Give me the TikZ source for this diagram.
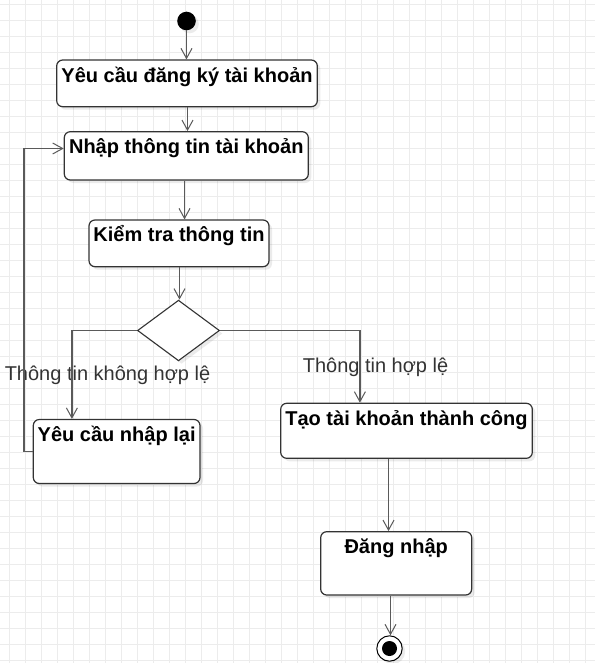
\documentclass[tikz,border=0pt]{standalone}
\usepackage{fontspec}
\setmainfont{Liberation Sans}
\usetikzlibrary{arrows.meta,shapes.geometric,shadows,calc}
\definecolor{gridc}{RGB}{236,236,236}
\definecolor{linec}{RGB}{90,90,90}
\definecolor{boxc}{RGB}{51,51,51}
\definecolor{labc}{RGB}{51,51,51}
\tikzset{
  actbox/.style={rectangle, rounded corners=6pt, draw=boxc, line width=1.2pt, fill=white,
    inner sep=0pt, drop shadow={shadow xshift=3pt, shadow yshift=-3pt, fill=black, opacity=0.08}},
  btext/.style={font=\bfseries\fontsize{20}{24}\selectfont, text=black, inner sep=0pt, anchor=base},
  elabel/.style={font=\fontsize{20}{24}\selectfont, text=labc, inner sep=0pt, anchor=base},
  arr/.style={draw=linec, line width=1.5pt, -{Straight Barb[length=10pt,width=11pt,line width=1pt]}},
  decision/.style={diamond, draw=boxc, line width=1.1pt, fill=white, inner sep=0pt,
    drop shadow={shadow xshift=3pt, shadow yshift=-3pt, fill=black, opacity=0.08}},
}
\begin{document}
\begin{tikzpicture}[x=1pt,y=-1pt]
\useasboundingbox (0,0) rectangle (595,663);
\fill[white] (0,0) rectangle (595,663);
% grid
\foreach \gx in {9,25,...,595} \draw[gridc, line width=0.9pt] (\gx,0) -- (\gx,663);
\foreach \gy in {4,20,...,663} \draw[gridc, line width=0.9pt] (0,\gy) -- (595,\gy);

% start
\node[circle, fill=black, minimum size=18.6pt, inner sep=0pt,
  drop shadow={shadow xshift=3pt, shadow yshift=-3pt, fill=black, opacity=0.08}] (start) at (186.5,21) {};

% boxes
\node[actbox, minimum width=260.6pt, minimum height=46.7pt] (b1) at (187,83.35) {};
\node[btext] (t1) at ($(b1.north)+(0,22.7)$) {Yêu cầu đăng ký tài khoản};

\node[actbox, minimum width=244pt, minimum height=48.3pt] (b2) at (186.3,155.85) {};
\node[btext] (t2) at ($(b2.north)+(0,22.5)$) {Nhập thông tin tài khoản};

\node[actbox, minimum width=180pt, minimum height=46.7pt] (b3) at (179,243.35) {};
\node[btext] (t3) at ($(b3.north)+(0,22.5)$) {Kiểm tra thông tin};

\node[decision, minimum width=82pt, minimum height=60.7pt] (d) at (178.5,330.5) {};

\node[actbox, minimum width=166.7pt, minimum height=64pt] (b4) at (116.65,451.5) {};
\node[btext] (t4) at ($(b4.north)+(0,22.5)$) {Yêu cầu nhập lại};

\node[actbox, minimum width=251.6pt, minimum height=55pt] (b5) at (406.5,430.8) {};
\node[btext] (t5) at ($(b5.north)+(0,23)$) {Tạo tài khoản thành công};

\node[actbox, minimum width=151pt, minimum height=63.3pt] (b6) at (396.2,563.35) {};
\node[btext] (t6) at ($(b6.north)+(0,22.7)$) {Đăng nhập};

% end
\node[circle, draw=black, line width=1pt, fill=white, minimum size=25.4pt, inner sep=0pt,
  drop shadow={shadow xshift=3pt, shadow yshift=-3pt, fill=black, opacity=0.08}] (end) at (389.5,648.5) {};
\node[circle, fill=black, minimum size=15pt, inner sep=0pt] (endin) at (end.center) {};

% edge labels
\node[elabel] (l1) at (107.5,380) {Thông tin không hợp lệ};
\node[elabel] (l2) at (375.5,372) {Thông tin hợp lệ};

% connector anchor points
\coordinate (c12) at ([xshift=0.5pt]b1.south);
\coordinate (c23) at ([xshift=-1.8pt]b2.south);
\coordinate (c3d) at ([xshift=0.5pt]b3.south);
\coordinate (c4in) at ($(b4.north west)+(39.2,0)$);
\coordinate (c5in) at ($(b5.north west)+(79.8,0)$);
\coordinate (c2in) at ($(b2.west)+(0,-7.35)$);
\coordinate (c56) at ($(b5.south)+(-18,0)$);
\coordinate (c6e) at ($(b6.south)+(-5.7,0)$);

% connectors
\draw[arr] (start.south) -- (start.south |- b1.north);
\draw[arr] (c12) -- (c12 |- b2.north);
\draw[arr] (c23) -- (c23 |- b3.north);
\draw[arr] (c3d) -- (c3d |- d.north);
\draw[arr] (d.west) -| (c4in);
\draw[arr] (d.east) -| (c5in);
\draw[arr] (b4.west) -- ++(-8.8,0) |- (c2in);
\draw[arr] (c56) -- (c56 |- b6.north);
\draw[arr] (c6e) -- (c6e |- end.north);
\end{tikzpicture}
\end{document}
